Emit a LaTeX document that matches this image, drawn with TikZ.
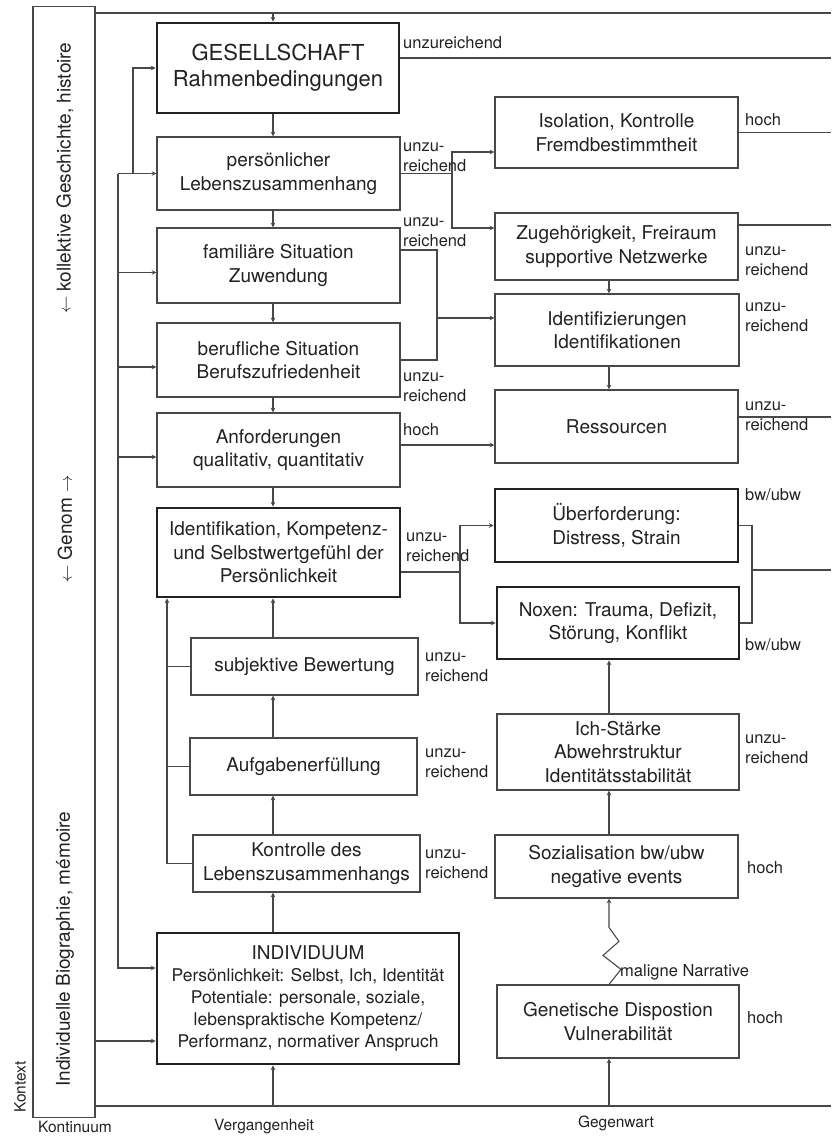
\documentclass[tikz,border=0pt]{standalone}
\usepackage{fontspec}
\setmainfont{TeX Gyre Heros}

\definecolor{ink}{HTML}{222222}
\definecolor{linegray}{HTML}{484848}

\newcommand{\boxfont}{\fontsize{19}{23.5}\selectfont}
\newcommand{\gesfont}{\fontsize{22}{26}\selectfont}
\newcommand{\indfont}{\fontsize{17.5}{22}\selectfont}
\newcommand{\lblfont}{\fontsize{16.5}{20}\selectfont}
\newcommand{\axfont}{\fontsize{15.5}{18}\selectfont}

\begin{document}
\begin{tikzpicture}[x=1pt, y=-1pt, >=stealth,
    box/.style={draw=linegray, line width=1.2pt, text=ink, align=center, inner sep=0pt, font=\boxfont},
    heavybox/.style={box, draw=ink, line width=2.8pt},
    lbl/.style={text=ink, align=left, anchor=west, inner sep=0pt, font=\lblfont},
    axlbl/.style={text=ink, inner sep=0pt, font=\axfont},
    side/.style={text=ink, inner sep=0pt, font=\boxfont, rotate=90},
    link/.style={draw=linegray, line width=1.1pt}]

    % Page frame
    \useasboundingbox (0,0) rectangle (831,1137);
    \fill[white] (0,0) rectangle (831,1137);

    % Context strip on the left
    \node[draw=linegray, line width=1.2pt, minimum width=62pt, minimum height=1111pt, inner sep=0pt] (strip) at (64,562) {};
    \node[side, anchor=west] (t-koll) at (65,314) {$\leftarrow$\;kollektive Geschichte, histoire};
    \node[side] (t-genom) at (65,529) {$\leftarrow$\;Genom\;$\rightarrow$};
    \node[side, anchor=west] (t-bio) at (65,1087) {Individuelle Biographie, mémoire};

    % Helper coordinates (x positions of the vertical lines)
    \coordinate (laxis) at (273,0);
    \coordinate (raxis) at (609,0);
    \coordinate (trunk) at (118,0);
    \coordinate (feed) at (133,0);
    \coordinate (back) at (167,0);
    \coordinate (jA) at (452,0);
    \coordinate (jB) at (437,0);
    \coordinate (jC) at (460,0);
    \coordinate (jD) at (752,0);
    \coordinate (edge) at (831,0);
    \coordinate (top-l) at (95,13);
    \coordinate (top-r) at (831,13);
    \coordinate (bot-l) at (95,1106);
    \coordinate (bot-r) at (831,1106);

    % Left column
    \node[heavybox, font=\gesfont, minimum width=242pt, minimum height=90pt] (ges) at (278,68) {GESELLSCHAFT\\Rahmenbedingungen};
    \node[box, minimum width=243pt, minimum height=73pt] (pers) at (278.5,173.5) {persönlicher\\Lebenszusammenhang};
    \node[box, minimum width=243pt, minimum height=75pt] (fam) at (278.5,265.5) {familiäre Situation\\Zuwendung};
    \node[box, minimum width=243pt, minimum height=74pt] (beruf) at (278.5,360) {berufliche Situation\\Berufszufriedenheit};
    \node[box, minimum width=243pt, minimum height=74pt] (anf) at (278.5,450) {Anforderungen\\qualitativ, quantitativ};
    \node[heavybox, minimum width=243pt, minimum height=89pt] (ident) at (278.5,552.5) {Identifikation, Kompetenz-\\und Selbstwertgefühl der\\Persönlichkeit};
    \node[box, minimum width=227pt, minimum height=57pt] (subj) at (304.5,666.5) {subjektive Bewertung};
    \node[box, minimum width=227pt, minimum height=57pt] (aufg) at (303.5,766.5) {Aufgabenerfüllung};
    \node[box, minimum width=227pt, minimum height=57pt] (kontr) at (306.5,863.5) {Kontrolle des\\Lebenszusammenhangs};
    \node[heavybox, font=\indfont, minimum width=302pt, minimum height=131pt] (indiv) at (308,998.5)
        {{\boxfont INDIVIDUUM}\\Persönlichkeit: Selbst, Ich, Identität\\Potentiale: personale, soziale,\\lebenspraktische Kompetenz/\\Performanz, normativer Anspruch};

    % Right column
    \node[box, minimum width=243pt, minimum height=71pt] (iso) at (616.5,132.5) {Isolation, Kontrolle\\Fremdbestimmtheit};
    \node[box, minimum width=243pt, minimum height=67pt] (zug) at (616.5,246.5) {Zugehörigkeit, Freiraum\\supportive Netzwerke};
    \node[box, minimum width=244pt, minimum height=72pt] (idz) at (617,330) {Identifizierungen\\Identifikationen};
    \node[box, minimum width=243pt, minimum height=73pt] (ress) at (616.5,426.5) {Ressourcen};
    \node[heavybox, minimum width=243pt, minimum height=73pt] (ueber) at (616.5,525.5) {Überforderung:\\Distress, Strain};
    \node[heavybox, minimum width=242pt, minimum height=72pt] (nox) at (618,623) {Noxen: Trauma, Defizit,\\Störung, Konflikt};
    \node[box, minimum width=242pt, minimum height=76pt] (ich) at (618,752) {Ich-Stärke\\Abwehrstruktur\\Identitätsstabilität};
    \node[box, minimum width=243pt, minimum height=63pt] (soz) at (616.5,866.5) {Sozialisation bw/ubw\\negative events};
    \node[box, minimum width=242pt, minimum height=73pt] (gen) at (618,1021.5) {Genetische Dispostion\\Vulnerabilität};

    % Top and bottom lines
    \draw[link] (top-l) -- (top-r);
    \draw[link] (bot-l) -- (bot-r);
    \draw[link,->] (top-l -| laxis) -- (ges.north -| laxis);
    \draw[link,->] (bot-l -| laxis) -- (indiv.south -| laxis);
    \draw[link,->] (bot-l -| raxis) -- (gen.south -| raxis);

    % Down the left column, then back up
    \foreach \a/\b in {ges/pers, pers/fam, fam/beruf, beruf/anf, anf/ident}
        \draw[link,->] (\a.south -| laxis) -- (\b.north -| laxis);
    \foreach \a/\b in {indiv/kontr, kontr/aufg, aufg/subj, subj/ident}
        \draw[link,->] (\a.north -| laxis) -- (\b.south -| laxis);

    % Right column arrows
    \draw[link,->] (zug.south -| raxis) -- (idz.north -| raxis);
    \draw[link,->] (idz.south -| raxis) -- (ress.north -| raxis);
    \draw[link,->] (soz.north -| raxis) -- (ich.south -| raxis);
    \draw[link,->] (ich.north -| raxis) -- (nox.south -| raxis);
    \draw[link,->] (gen.north -| raxis) -- ++(12,-15) -- ++(-18,-14) -- ++(16,-14) -- ++(-10,-14) -- (soz.south -| raxis); % zigzag

    % Feeding lines from the left
    \draw[link,->] (pers.west -| trunk) -- (pers.west);
    \draw[link,->] (pers.west -| trunk) |- ([yshift=30.5pt]indiv.west);
    \draw[link,->] (pers.west -| feed) |- (ges.west);
    \foreach \b in {fam, beruf, anf}
        \draw[link,->] ([yshift=-7pt]\b.west -| trunk) -- ([yshift=-7pt]\b.west);
    \draw[link,->] ([yshift=-42.5pt]indiv.west -| strip.east) -- ([yshift=-42.5pt]indiv.west);

    % Back line into Identifikation
    \draw[link,->] (kontr.west) -| (ident.south -| back);
    \draw[link] (subj.west) -- (subj.west -| back);
    \draw[link] (aufg.west) -- (aufg.west -| back);

    % Left to right connections
    \draw[link] ([yshift=10pt]ges.east) -- ([yshift=10pt]ges.east -| edge);
    \draw[link] (pers.east) -- (pers.east -| jA);
    \draw[link,->] (pers.east -| jA) |- ([yshift=-19.5pt]iso.west);
    \draw[link,->] (pers.east -| jA) |- ([yshift=18.5pt]zug.west);
    \draw[link] ([yshift=15.5pt]fam.east) -| (beruf.east -| jB) -- (beruf.east);
    \draw[link,->] ([yshift=12pt]idz.west -| jB) -- ([yshift=12pt]idz.west);
    \draw[link,->] ([yshift=5pt]anf.east) -- ([yshift=5pt]anf.east -| ress.west);
    \draw[link] ([yshift=-19.5pt]ident.east) -- ([yshift=-19.5pt]ident.east -| jC);
    \draw[link,->] ([yshift=-19.5pt]ident.east -| jC) |- (ueber.west);
    \draw[link,->] ([yshift=-19.5pt]ident.east -| jC) |- (nox.west);

    % Lines to the right edge
    \draw[link] (iso.east) -- (iso.east -| edge);
    \draw[link] ([yshift=21.5pt]zug.east) -- ([yshift=21.5pt]zug.east -| edge);
    \draw[link] ([yshift=9.5pt]ress.east) -- ([yshift=9.5pt]ress.east -| edge);
    \draw[link] (ueber.east) -| (nox.east -| jD) -- (nox.east);
    \draw[link] ([yshift=-44.5pt]ueber.east -| jD) -- ([yshift=-44.5pt]ueber.east -| edge);

    % Labels, left column
    \node[lbl] (l-ges) at (403,43) {unzureichend};
    \node[lbl] (l-pers) at (403,157.5) {unzu-\\reichend};
    \node[lbl] (l-fam) at (403,232) {unzu-\\reichend};
    \node[lbl] (l-beruf) at (403,387) {unzu-\\reichend};
    \node[lbl] (l-anf) at (403,430) {hoch};
    \node[lbl] (l-ident) at (406,547.5) {unzu-\\reichend};
    \node[lbl] (l-subj) at (425,667.5) {unzu-\\reichend};
    \node[lbl] (l-aufg) at (425,763) {unzu-\\reichend};
    \node[lbl] (l-kontr) at (425,864) {unzu-\\reichend};

    % Labels, right column
    \node[lbl] (l-iso) at (745,120) {hoch};
    \node[lbl] (l-zug) at (745,261) {unzu-\\reichend};
    \node[lbl] (l-idz) at (745,317.5) {unzu-\\reichend};
    \node[lbl] (l-ress) at (745,416.5) {unzu-\\reichend};
    \node[lbl] (l-ueber) at (745,495) {bw/ubw};
    \node[lbl] (l-nox) at (745,645) {bw/ubw};
    \node[lbl] (l-ich) at (745,749) {unzu-\\reichend};
    \node[lbl] (l-soz) at (747,868) {hoch};
    \node[lbl] (l-gen) at (747,1018) {hoch};
    \node[lbl] (l-mal) at (620,972) {maligne Narrative};

    % Axis labels at the bottom
    \node[lbl, rotate=90, font=\axfont] (t-ktx) at (20,1113) {Kontext};
    \node[axlbl] (t-kont) at (75,1127) {Kontinuum};
    \node[axlbl] (t-verg) at (264,1127) {Vergangenheit};
    \node[axlbl] (t-gegw) at (616,1123) {Gegenwart};

\end{tikzpicture}
\end{document}
